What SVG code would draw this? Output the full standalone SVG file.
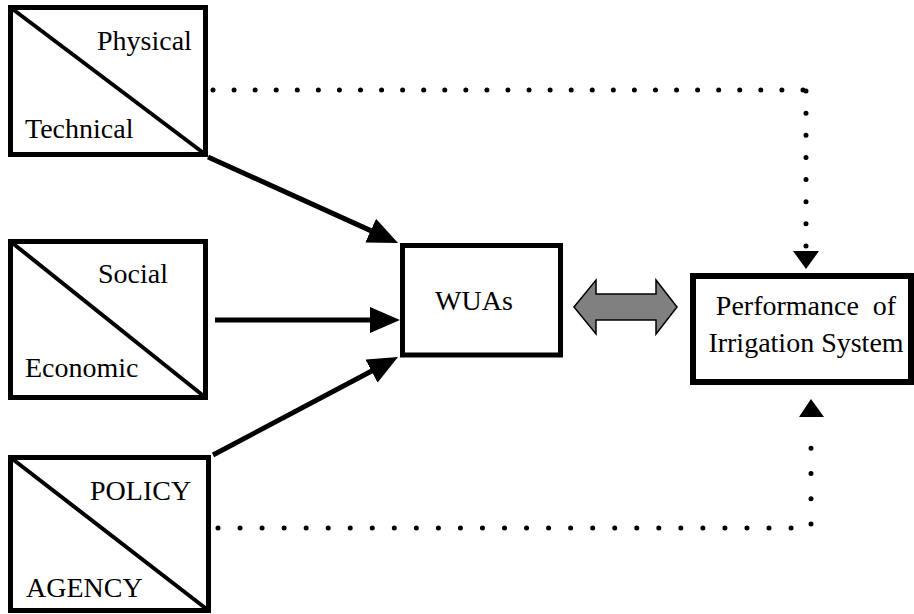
<svg xmlns="http://www.w3.org/2000/svg" width="914" height="614" viewBox="0 0 914 614">
  <style>
    .box { fill: #fff; stroke: #000; stroke-width: 5; }
    .diag { stroke: #000; stroke-width: 4; fill: none; }
    .lbl { font-family: "Liberation Serif", "Times New Roman", serif; font-size: 28px; fill: #000; }
    .flow { stroke: #000; stroke-width: 5; fill: none; marker-end: url(#ah); }
    .dots { stroke: #000; stroke-width: 5; stroke-linecap: round; fill: none; }
    .tri { fill: #000; }
  </style>
  <defs>
    <marker id="ah" markerUnits="userSpaceOnUse" markerWidth="30" markerHeight="26" refX="20" refY="13" orient="auto">
      <path d="M0,0 L30,13 L0,26 Z" fill="#000"/>
    </marker>
  </defs>

  <rect width="914" height="614" fill="#fff"/>

  <!-- factor boxes, each split by a diagonal -->
  <g id="physical-technical">
    <rect class="box" x="10.5" y="7.5" width="195" height="147"/>
    <line class="diag" x1="10.5" y1="7.5" x2="205.5" y2="154.5"/>
    <text class="lbl" x="97" y="50">Physical</text>
    <text class="lbl" x="25" y="138">Technical</text>
  </g>

  <g id="social-economic">
    <rect class="box" x="10.5" y="241.5" width="195" height="156"/>
    <line class="diag" x1="10.5" y1="241.5" x2="205.5" y2="397.5"/>
    <text class="lbl" x="98" y="283">Social</text>
    <text class="lbl" x="25" y="377">Economic</text>
  </g>

  <g id="policy-agency">
    <rect class="box" x="10.5" y="457.5" width="198" height="153"/>
    <line class="diag" x1="10.5" y1="457.5" x2="208.5" y2="610.5"/>
    <text class="lbl" x="90" y="500">POLICY</text>
    <text class="lbl" x="26" y="597">AGENCY</text>
  </g>

  <g id="wuas">
    <rect class="box" x="402.5" y="245.5" width="158" height="109.5"/>
    <text class="lbl" x="474" y="310" text-anchor="middle">WUAs</text>
  </g>

  <g id="performance">
    <rect class="box" x="693" y="276" width="218" height="106" style="stroke-width:6"/>
    <text class="lbl" x="806" y="315" text-anchor="middle" xml:space="preserve">Performance  of</text>
    <text class="lbl" x="806" y="352" text-anchor="middle">Irrigation System</text>
  </g>

  <g id="connectors">
    <!-- solid influence arrows into WUAs -->
    <path class="flow" d="M208,157 L388.9,238.9"/>
    <path class="flow" d="M215,320 L390,320"/>
    <path class="flow" d="M213,455 L389.2,361.7"/>

    <!-- two-way link between WUAs and performance -->
    <polygon points="574,307 596,280 596,294 656,294 656,280 677,307 656,334 656,320 596,320 596,334" fill="#808080" stroke="#000" stroke-width="1.5" stroke-linejoin="miter"/>

    <!-- dotted direct influence: physical/technical to performance -->
    <path class="dots" d="M213,90 H803" stroke-dasharray="0 21.07"/>
    <path class="dots" d="M806,91 V246" stroke-dasharray="0 22.14"/>
    <polygon class="tri" points="793,251 819,251 806,269"/>

    <!-- dotted direct influence: policy/agency to performance -->
    <path class="dots" d="M218,528 H813" stroke-dasharray="0 22.04"/>
    <path class="dots" d="M811,524 V423" stroke-dasharray="0 25.25"/>
    <polygon class="tri" points="799,417 824,417 811,399"/>
  </g>
</svg>
